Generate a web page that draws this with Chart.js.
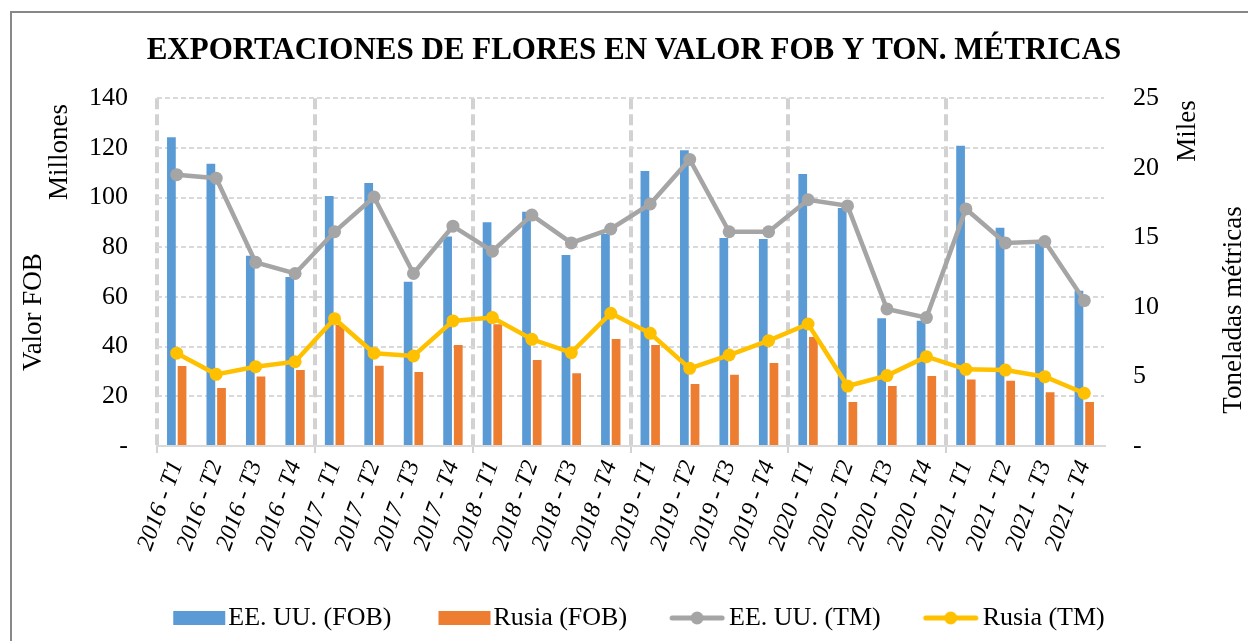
<!DOCTYPE html>
<html>
<head>
<meta charset="utf-8">
<script src="https://cdn.jsdelivr.net/npm/chart.js@4.4.1/dist/chart.umd.min.js"></script>
<style>
  html, body { margin: 0; padding: 0; background: #fff; }
  #wrap { position: relative; width: 1248px; height: 641px; overflow: hidden; }
  #c { position: absolute; left: 0; top: 0; }
  #frame { position: absolute; left: 10px; top: 11px; width: 1400px; height: 800px;
           border: 2px solid #888; pointer-events: none; }
</style>
</head>
<body>
<div id="wrap">
  <canvas id="c" width="1248" height="641"></canvas>
  <div id="frame"></div>
</div>
<script>
const categories = [
  '2016 - T1','2016 - T2','2016 - T3','2016 - T4',
  '2017 - T1','2017 - T2','2017 - T3','2017 - T4',
  '2018 - T1','2018 - T2','2018 - T3','2018 - T4',
  '2019 - T1','2019 - T2','2019 - T3','2019 - T4',
  '2020 - T1','2020 - T2','2020 - T3','2020 - T4',
  '2021 - T1','2021 - T2','2021 - T3','2021 - T4'
];
// Valor FOB (millones)
const usaFOB = [124.3,113.6,76.6,68.0, 100.6,105.9,66.1,84.3, 90.1,94.3,76.9,85.3,
                110.7,119.0,83.7,83.3, 109.5,95.8,51.4,50.4, 120.9,87.9,82.4,62.5];
const rusiaFOB = [32.2,23.3,28.0,30.6, 48.7,32.3,29.8,40.7, 49.0,34.6,29.3,43.1,
                  40.7,25.0,28.7,33.4, 43.9,17.7,24.2,28.2, 26.8,26.3,21.6,17.7];
// Toneladas métricas (miles)
const usaTM = [19.5,19.25,13.2,12.4, 15.4,17.9,12.4,15.8, 14.0,16.6,14.6,15.6,
               17.4,20.6,15.4,15.4, 17.7,17.26,9.85,9.23, 17.04,14.6,14.7,10.45];
const rusiaTM = [6.67,5.15,5.7,6.06, 9.15,6.67,6.47,8.99, 9.23,7.67,6.71,9.54,
                 8.1,5.58,6.54,7.57, 8.77,4.31,5.06,6.42, 5.51,5.46,4.98,3.79];
const leftTicks = [0,20,40,60,80,100,120,140];
const rightTicks = [0,5,10,15,20,25];
const seriesNames = ['EE. UU. (FOB)','Rusia (FOB)','EE. UU. (TM)','Rusia (TM)'];
const chartTitle = 'EXPORTACIONES DE FLORES EN VALOR FOB Y TON. MÉTRICAS';
const axisTexts = { leftUnit: 'Millones', leftTitle: 'Valor FOB', rightUnit: 'Miles', rightTitle: 'Toneladas métricas' };

const C_BLUE = '#5B9BD5', C_ORANGE = '#ED7D31', C_GRAY = '#A5A5A5', C_YELLOW = '#FFC000';
const SERIF = "'Liberation Serif', 'Times New Roman', serif";

function boxIcon(color) {
  const cv = document.createElement('canvas');
  cv.width = 80; cv.height = 14;
  const g = cv.getContext('2d');
  g.fillStyle = color; g.fillRect(24, 0, 52, 14);
  return cv;
}
function lineIcon(color) {
  const cv = document.createElement('canvas');
  cv.width = 74; cv.height = 16;
  const g = cv.getContext('2d');
  g.strokeStyle = color; g.lineWidth = 5; g.lineCap = 'round';
  g.beginPath(); g.moveTo(19, 8); g.lineTo(69, 8); g.stroke();
  g.fillStyle = color; g.beginPath(); g.arc(44, 8, 6.5, 0, Math.PI * 2); g.fill();
  return cv;
}
const icons = [boxIcon(C_BLUE), boxIcon(C_ORANGE), lineIcon(C_GRAY), lineIcon(C_YELLOW)];

const axisTitlePlugin = {
  id: 'axisTitles',
  afterDraw(chart) {
    const ctx = chart.ctx;
    const put = (txt, x, y) => {
      ctx.save();
      ctx.translate(x, y); ctx.rotate(-Math.PI / 2);
      ctx.font = '27px ' + SERIF;
      ctx.fillStyle = '#000';
      ctx.textAlign = 'center'; ctx.textBaseline = 'middle';
      ctx.fillText(txt, 0, 0);
      ctx.restore();
    };
    put(axisTexts.leftUnit, 60, 152);
    put(axisTexts.leftTitle, 34, 312);
    put(axisTexts.rightUnit, 1188, 131);
    put(axisTexts.rightTitle, 1234, 310);
  }
};

const yearLine = (ctx) => (ctx.index % 4 === 0) ? '#D2D2D2' : 'rgba(0,0,0,0)';

new Chart(document.getElementById('c'), {
  type: 'bar',
  data: {
    labels: categories,
    datasets: [
      { type: 'bar', label: seriesNames[0], data: usaFOB, backgroundColor: C_BLUE, yAxisID: 'y', order: 2,
        categoryPercentage: 0.54, barPercentage: 0.82 },
      { type: 'bar', label: seriesNames[1], data: rusiaFOB, backgroundColor: C_ORANGE, yAxisID: 'y', order: 2,
        categoryPercentage: 0.54, barPercentage: 0.82 },
      { type: 'line', label: seriesNames[2], data: usaTM, borderColor: C_GRAY, backgroundColor: C_GRAY,
        borderWidth: 4.5, pointRadius: 6.5, pointBorderWidth: 0, pointBackgroundColor: C_GRAY,
        yAxisID: 'y1', order: 1, tension: 0 },
      { type: 'line', label: seriesNames[3], data: rusiaTM, borderColor: C_YELLOW, backgroundColor: C_YELLOW,
        borderWidth: 4.5, pointRadius: 6.5, pointBorderWidth: 0, pointBackgroundColor: C_YELLOW,
        yAxisID: 'y1', order: 0, tension: 0 }
    ]
  },
  options: {
    responsive: false,
    animation: false,
    devicePixelRatio: 1,
    layout: { padding: { left: 20, right: 0, top: 0, bottom: 0 } },
    plugins: {
      tooltip: { enabled: false },
      title: {
        display: true, text: chartTitle, color: '#000',
        font: { family: SERIF, size: 31, weight: 'bold' },
        padding: { top: 32, bottom: 29 }
      },
      legend: {
        position: 'bottom',
        labels: {
          usePointStyle: true, pointStyleWidth: 52, boxHeight: 14,
          padding: 37, color: '#000',
          font: { family: SERIF, size: 26 },
          generateLabels: (chart) => chart.data.datasets.map((ds, i) => ({
            text: ds.label, pointStyle: icons[i], datasetIndex: i, hidden: false,
            fillStyle: 'rgba(0,0,0,0)', strokeStyle: 'rgba(0,0,0,0)', lineWidth: 0, fontColor: '#000'
          }))
        }
      }
    },
    scales: {
      x: {
        offset: true,
        grid: { offset: true, color: yearLine, lineWidth: 4, drawTicks: true, tickLength: 7,
                tickColor: yearLine, tickWidth: 2 },
        border: { display: true, color: '#D9D9D9', width: 2, dash: [11, 5] },
        ticks: { autoSkip: false, minRotation: 70, maxRotation: 70, padding: 4, color: '#000',
                 font: { family: SERIF, size: 24, style: 'italic' } },
        afterFit: (s) => { s.height = 641 - (s.chart.legend ? s.chart.legend.height : 76) - 446; }
      },
      y: {
        position: 'left', min: 0, max: 140,
        afterBuildTicks: (s) => { s.ticks = leftTicks.map(v => ({ value: v })); },
        grid: { color: (c) => c.tick && c.tick.value === 0 ? 'rgba(0,0,0,0)' : '#D9D9D9', lineWidth: 2, drawTicks: false },
        border: { display: false, dash: [5, 3] },
        ticks: { padding: 29, color: '#000', font: { family: SERIF, size: 26 },
                 callback: (v) => v === 0 ? '-' : v },
        afterFit: (s) => { s.width = 137; }
      },
      y1: {
        position: 'right', min: 0, max: 25,
        afterBuildTicks: (s) => { s.ticks = rightTicks.map(v => ({ value: v })); },
        grid: { drawOnChartArea: false, drawTicks: false },
        border: { display: false },
        ticks: { padding: 29, color: '#000', font: { family: SERIF, size: 26 },
                 callback: (v) => v === 0 ? '-' : v },
        afterFit: (s) => { s.width = 144; }
      }
    }
  },
  plugins: [axisTitlePlugin]
});
</script>
</body>
</html>
